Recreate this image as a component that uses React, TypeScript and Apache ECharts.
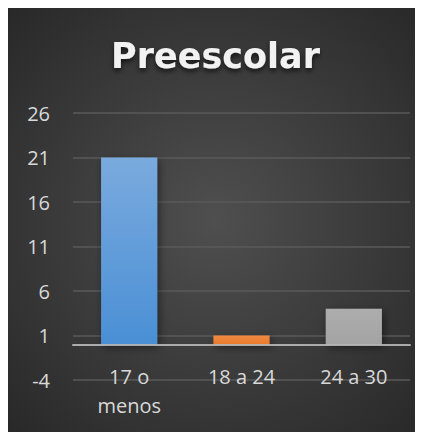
import React, { useEffect, useRef } from "react";
import * as echarts from "echarts";

const categories = ["17 o\nmenos", "18 a 24", "24 a 30"];
const values = [21, 1, 4];
const barColors = [
  ["#7aaade", "#4a8fd5"],
  ["#f08a42", "#e97a2c"],
  ["#adadad", "#a3a3a3"],
];
const titleText = "Preescolar";
const yMin = -4;
const yMax = 26;
const yStep = 5;

export default function App() {
  const ref = useRef<HTMLDivElement>(null);

  useEffect(() => {
    if (!ref.current) return;
    const chart = echarts.init(ref.current, undefined, { renderer: "svg" });
    chart.setOption({
      animation: false,
      backgroundColor: {
        type: "radial",
        x: 0.5,
        y: 0.5,
        r: 0.75,
        colorStops: [
          { offset: 0, color: "#4f4f4f" },
          { offset: 1, color: "#262626" },
        ],
      },
      title: {
        text: titleText,
        left: "center",
        top: 25,
        textStyle: {
          fontFamily: "DejaVu Sans",
          fontWeight: "bold",
          fontSize: 35,
          color: "#f2f2f2",
          textShadowColor: "rgba(0,0,0,0.65)",
          textShadowBlur: 5,
          textShadowOffsetY: 3,
        },
      },
      grid: {
        left: 65,
        right: 13,
        top: 105,
        bottom: 52,
        containLabel: false,
        outerBoundsMode: "none",
      },
      xAxis: {
        type: "category",
        data: categories,
        axisLine: { show: true, onZero: true, lineStyle: { color: "#bfbfbf", width: 2, opacity: 0.85 } },
        axisTick: { show: false },
        axisLabel: {
          color: "#d9d9d9",
          fontFamily: "Open Sans",
          fontSize: 20,
          lineHeight: 29,
          margin: -18,
        },
        z: 5,
      },
      yAxis: {
        type: "value",
        min: yMin,
        max: yMax,
        interval: yStep,
        axisLine: { show: false },
        axisTick: { show: false },
        axisLabel: {
          color: "#d9d9d9",
          fontFamily: "Open Sans",
          fontSize: 20,
          margin: 23,
        },
        splitLine: { lineStyle: { color: "#5a5a5a", width: 1.5 } },
      },
      series: [
        {
          type: "bar",
          barWidth: "50%",
          data: values.map((v, i) => ({
            value: v,
            itemStyle: {
              color: {
                type: "linear",
                x: 0,
                y: 0,
                x2: 0,
                y2: 1,
                colorStops: [
                  { offset: 0, color: barColors[i][0] },
                  { offset: 1, color: barColors[i][1] },
                ],
              },
              shadowColor: "rgba(0,0,0,0.45)",
              shadowBlur: 8,
              shadowOffsetX: 2,
              shadowOffsetY: 3,
            },
          })),
        },
      ],
    });
    return () => chart.dispose();
  }, []);

  return <div ref={ref} style={{ width: 415, height: 424 }} />;
}
